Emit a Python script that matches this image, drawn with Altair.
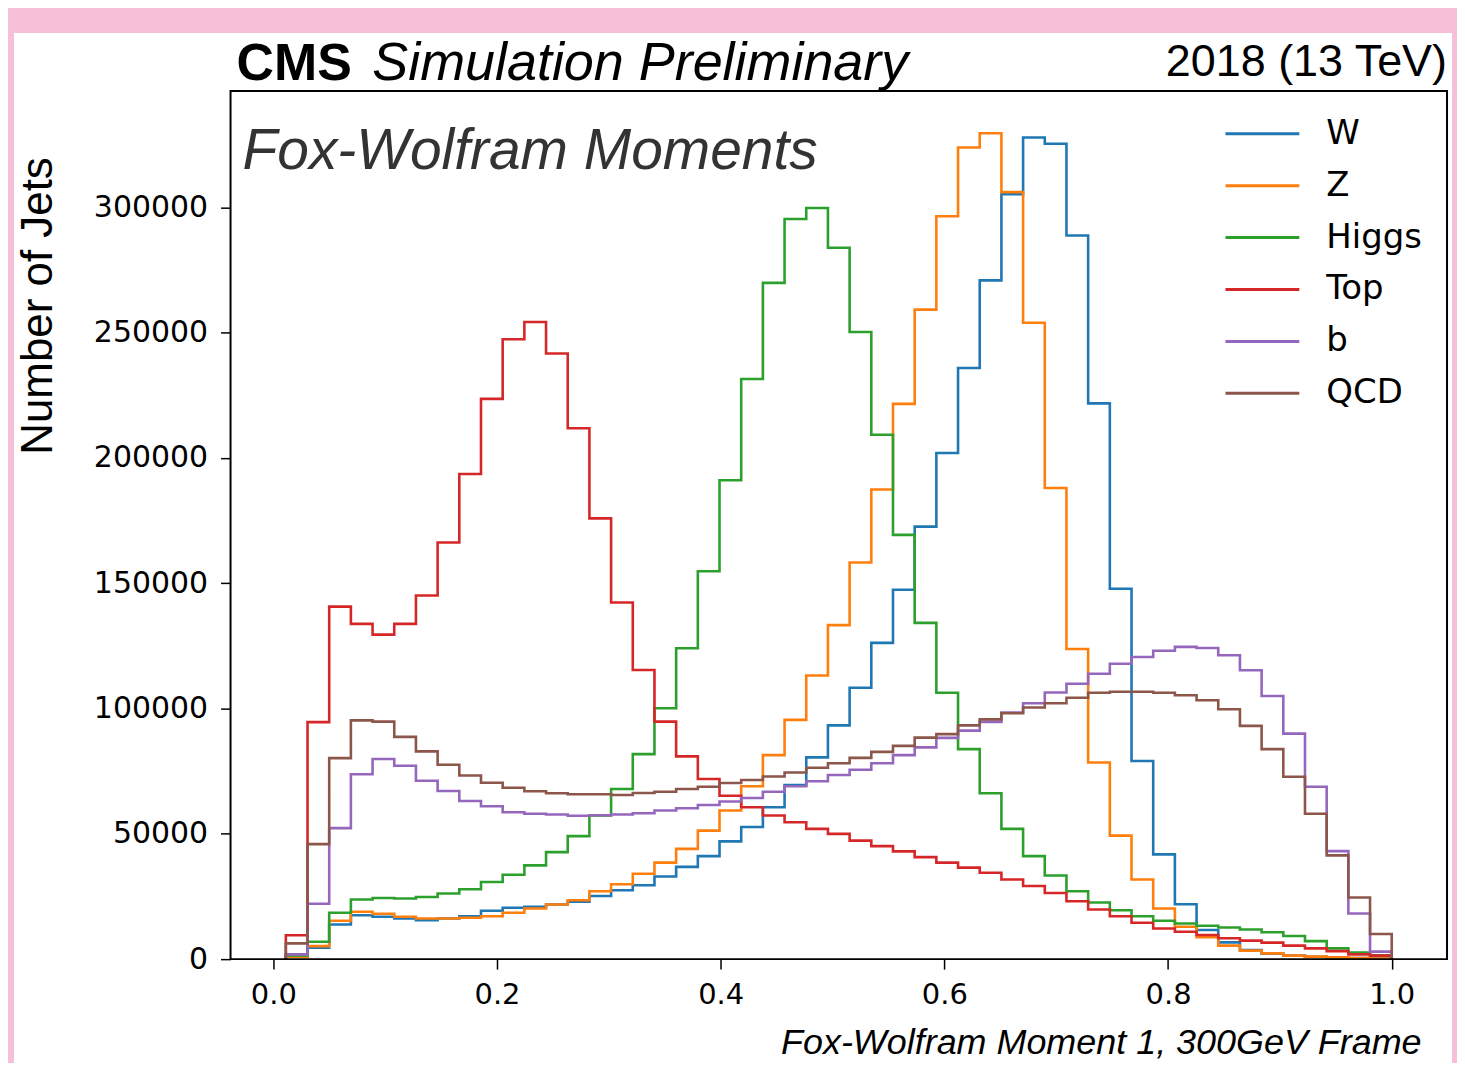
import altair as alt
import numpy as np
import pandas as pd

# ---------------- data ----------------
series_names = ["W", "Z", "Higgs", "Top", "b", "QCD"]
series_colors = ["#1f77b4", "#ff7f0e", "#2ca02c", "#d62728", "#9467bd", "#8c564b"]

bin_low = 0.0112
bin_high = 1.0
n_bins = 51

w_counts = [1000, 4600, 13800, 17500, 16900, 16200, 15500, 16200, 17100, 19300,
            20500, 20900, 21800, 22900, 25200, 27500, 29500, 33000, 36800, 41100,
            47000, 52700, 60600, 69500, 80500, 93300, 108300, 126200, 147400, 172600,
            202000, 235900, 270900, 305300, 327900, 325400, 288800, 221800, 147800, 79100,
            41800, 21900, 11600, 6700, 3600, 2200, 1400, 900, 600, 400, 200]
z_counts = [1000, 5200, 15300, 18900, 18100, 16900, 16200, 16200, 16500, 17100,
            18500, 20200, 21800, 23500, 27100, 29900, 34100, 38500, 44000, 51300,
            59300, 69000, 81400, 95500, 113200, 133300, 158300, 187400, 221600, 259200,
            296500, 323900, 329600, 306100, 254000, 188000, 123800, 78500, 49300, 31800,
            20200, 12900, 8700, 5400, 3400, 2300, 1400, 1000, 700, 400, 200]
higgs_counts = [1500, 6950, 18500, 23800, 24400, 24200, 24800, 26200, 27900, 30800,
                33700, 37400, 42700, 49100, 57300, 67900, 81800, 100100, 124100, 154800,
                191100, 231500, 269900, 295400, 299800, 283900, 250300, 209300, 169300, 134200,
                106300, 83800, 66200, 52000, 41100, 33400, 27100, 22600, 19500, 17100,
                15300, 14200, 13300, 12600, 11800, 10700, 9200, 7200, 4300, 2600, 1500]
top_counts = [9500, 94600, 140700, 133800, 129500, 133800, 145100, 166300, 193600, 223600,
              247400, 254300, 241700, 211900, 175900, 142300, 115400, 94800, 80900, 71900,
              65200, 60600, 57300, 54600, 52000, 50000, 47300, 45100, 43000, 40700,
              38500, 36500, 34500, 31800, 29200, 26400, 23100, 19800, 17100, 14500,
              12200, 10900, 9600, 8300, 7400, 6600, 5400, 4300, 3200, 1900, 1400]
b_counts = [1900, 22100, 52300, 73800, 79900, 77200, 71200, 67100, 63100, 61000,
            58600, 58000, 57700, 57200, 57400, 57700, 58200, 59300, 60200, 61500,
            62900, 64300, 66800, 69000, 71000, 73500, 75600, 78200, 81400, 84500,
            88300, 91200, 94700, 98400, 102100, 106400, 109900, 113900, 117900, 120600,
            123100, 124600, 124200, 121300, 115300, 105000, 90000, 68800, 43100, 18200, 3000]
qcd_counts = [6300, 45900, 80200, 95300, 94800, 88700, 82900, 77600, 73300, 70400,
              68400, 67000, 66200, 65800, 65800, 65500, 66300, 66800, 67900, 68800,
              70300, 71500, 72900, 74500, 76400, 78200, 80300, 82700, 85100, 88400,
              89800, 93300, 95700, 98100, 100400, 102100, 104300, 106300, 106700, 106700,
              106300, 105300, 103300, 99700, 93100, 83800, 72800, 58000, 41400, 24600, 10000]

x_tick_values = [0.0, 0.2, 0.4, 0.6, 0.8, 1.0]
y_tick_values = [0, 50000, 100000, 150000, 200000, 250000, 300000]

all_counts = [w_counts, z_counts, higgs_counts, top_counts, b_counts, qcd_counts]

# build step-outline table (histtype="step")
edges = np.linspace(bin_low, bin_high, n_bins + 1)
rows = []
for name, counts in zip(series_names, all_counts):
    pts = [(edges[0], 0)]
    pts += [(edges[i], counts[i]) for i in range(n_bins)]
    pts += [(edges[-1], counts[-1]), (edges[-1], 0)]
    for k, (xv, yv) in enumerate(pts):
        rows.append({"series": name, "x": float(xv), "y": yv, "k": k})
df = pd.DataFrame(rows)

# ---------------- chart ----------------
W, H = 1219, 870
span = bin_high - bin_low
x_domain = [bin_low - 0.05 * span, bin_high + 0.05 * span]
y_domain = [0, 346500]

x_axis = alt.Axis(values=x_tick_values, format=".1f",
                  title="Fox-Wolfram Moment 1, 300GeV Frame",
                  titleFont="Liberation Sans", titleFontStyle="italic",
                  titleFontWeight="normal", titleFontSize=36, titleColor="black",
                  titleX=1193, titleY=95, titleAlign="right", titleBaseline="alphabetic",
                  labelFont="DejaVu Sans", labelFontSize=29, labelColor="black",
                  labelPadding=11, tickSize=10, tickWidth=1.5, tickColor="black",
                  domain=False, grid=False, zindex=1, labelFlush=False)
y_axis = alt.Axis(values=y_tick_values, format="d",
                  title="Number of Jets",
                  titleFont="Liberation Sans", titleFontWeight="normal",
                  titleFontSize=44, titleColor="black", titleAngle=270,
                  titleX=-179, titleY=215, titleAlign="center", titleBaseline="alphabetic",
                  labelFont="DejaVu Sans", labelFontSize=30, labelColor="black",
                  labelPadding=13, tickSize=10, tickWidth=1.5, tickColor="black",
                  domain=False, grid=False, zindex=1, labelFlush=False)

legend = alt.Legend(title=None, orient="none", legendX=1014, legendY=23,
                    symbolType="M-2,0L2,0", symbolSize=1369, symbolStrokeWidth=3,
                    labelFont="DejaVu Sans", labelFontSize=34, labelColor="black",
                    labelOffset=44, rowPadding=15, padding=0, offset=0)

base = alt.Chart(df)
line_layers = []
for name in series_names:
    line_layers.append(
        base.transform_filter(alt.datum.series == name)
        .mark_line(interpolate="step-after", strokeWidth=2.6)
        .encode(
            x=alt.X("x:Q", scale=alt.Scale(domain=x_domain, nice=False, zero=False), axis=x_axis),
            y=alt.Y("y:Q", scale=alt.Scale(domain=y_domain, nice=False), axis=y_axis),
            color=alt.Color("series:N", scale=alt.Scale(domain=series_names, range=series_colors),
                            legend=legend),
            order=alt.Order("k:Q"),
        )
    )

one = pd.DataFrame({"t": [""]})

panel = alt.Chart(one).mark_rect(color="white").encode(
    x=alt.value(-217), x2=alt.value(1224), y=alt.value(-58), y2=alt.value(975))

frame = alt.Chart(one).mark_rect(fillOpacity=0, stroke="black", strokeWidth=2).encode(
    x=alt.value(0), x2=alt.value(W), y=alt.value(0), y2=alt.value(H))

cms = alt.Chart(one).mark_text(align="left", baseline="alphabetic", font="Liberation Sans",
                               fontSize=52, fontWeight="bold", color="black").encode(
    x=alt.value(6), y=alt.value(-11), text=alt.value("CMS"))
sim = alt.Chart(one).mark_text(align="left", baseline="alphabetic", font="Liberation Sans",
                               fontSize=54, fontStyle="italic", color="black").encode(
    x=alt.value(142), y=alt.value(-11), text=alt.value("Simulation Preliminary"))
lumi = alt.Chart(one).mark_text(align="right", baseline="alphabetic", font="Liberation Sans",
                                fontSize=45, color="black").encode(
    x=alt.value(1219), y=alt.value(-15), text=alt.value("2018 (13 TeV)"))
fwm = alt.Chart(one).mark_text(align="left", baseline="alphabetic", font="Liberation Sans",
                               fontSize=57, fontStyle="italic", color="#333333").encode(
    x=alt.value(12), y=alt.value(78), text=alt.value("Fox-Wolfram Moments"))

chart = alt.layer(panel, *line_layers, frame, cms, sim, lumi, fwm).properties(
    width=W, height=H,
    background="#F6C0D8",
    padding={"left": 223, "top": 82, "right": 10, "bottom": 103},
    autosize=alt.AutoSizeParams(type="none"),
).configure_view(stroke="black", strokeWidth=2, fill="white")

chart.save("out.html", embed_options={"renderer": "svg", "actions": False})
